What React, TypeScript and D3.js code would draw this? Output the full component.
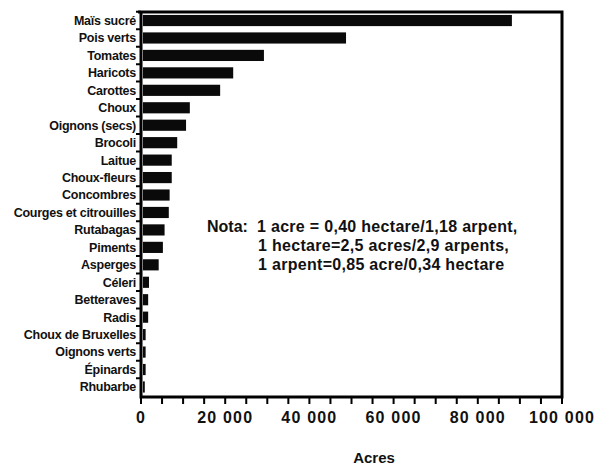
import React from "react";
import * as d3 from "d3";

const categories = [
  "Maïs sucré", "Pois verts", "Tomates", "Haricots", "Carottes", "Choux",
  "Oignons (secs)", "Brocoli", "Laitue", "Choux-fleurs", "Concombres",
  "Courges et citrouilles", "Rutabagas", "Piments", "Asperges", "Céleri",
  "Betteraves", "Radis", "Choux de Bruxelles", "Oignons verts", "Épinards", "Rhubarbe",
];
const values = [
  88100, 48700, 29200, 21900, 18800, 11600, 10700, 8600, 7300, 7300, 6800,
  6600, 5600, 5200, 4200, 1900, 1700, 1700, 1100, 1100, 1100, 900,
];
const xTicks = [0, 20000, 40000, 60000, 80000, 100000];
const xMinorTicks = d3.range(0, 100001, 5000);
const noteLines = [
  "1 acre = 0,40 hectare/1,18 arpent,",
  "1 hectare=2,5 acres/2,9 arpents,",
  "1 arpent=0,85 acre/0,34 hectare",
];

const W = 606, H = 466;
const left = 141, right = 562, top = 12, bottom = 397;

export default function App() {
  const x = d3.scaleLinear().domain([0, 100000]).range([left, right]);
  const y = d3.scaleBand().domain(categories).range([11.8, 395.7]).paddingInner(0.36).paddingOuter(0.18);
  const fmt = (v: number) => d3.format(",")(v).replace(/,/g, " ");
  const font = "'Liberation Sans', Arial, sans-serif";
  const step = y.step();
  const gap = (step - y.bandwidth()) / 2;
  return (
    <svg width={W} height={H} viewBox={`0 0 ${W} ${H}`} style={{ display: "block", position: "absolute", left: 0, top: 0 }} fontFamily={font}>
      <rect width={W} height={H} fill="#ffffff" />
      <path d={`M${left - 3},${top}H${right}V${bottom}H${left}V${top}`} fill="none" stroke="#000000" strokeWidth={3} />
      <path
        d={xMinorTicks.map((t) => `M${x(t)},${bottom}V${bottom + 7}`).join("")}
        fill="none" stroke="#000000" strokeWidth={2}
      />
      <path
        d={categories.map((c) => `M${left - 5},${y(c)! - gap}H${left}`).join("")}
        fill="none" stroke="#000000" strokeWidth={2}
      />
      {categories.map((c, i) => (
        <g key={c}>
          <rect x={x(0) + 2} y={y(c)!} width={x(values[i]) - x(0) - 2} height={y.bandwidth()} fill="#0a0a0a" />
          <text x={left - 5} y={y(c)! + y.bandwidth() / 2} dy="0.35em" textAnchor="end" fontSize={12.5} fontWeight="bold" letterSpacing={-0.25} fill="#111">{c}</text>
        </g>
      ))}
      {xTicks.map((t) => (
        <text key={t} x={x(t)} y={bottom + 26} textAnchor="middle" fontSize={16} fontWeight="bold" letterSpacing={1.2} fill="#111">{fmt(t)}</text>
      ))}
      <text x={374} y={463} textAnchor="middle" fontSize={15} fontWeight="bold" letterSpacing={0} fill="#111">Acres</text>
      <text x={207} y={232} fontSize={16} fontWeight="bold" letterSpacing={0} fill="#111">Nota:</text>
      {noteLines.map((l, i) => (
        <text key={i} x={i === 0 ? 257 : 258} y={232 + i * 19} fontSize={16} fontWeight="bold" letterSpacing={0.3} fill="#111">{l}</text>
      ))}
    </svg>
  );
}
